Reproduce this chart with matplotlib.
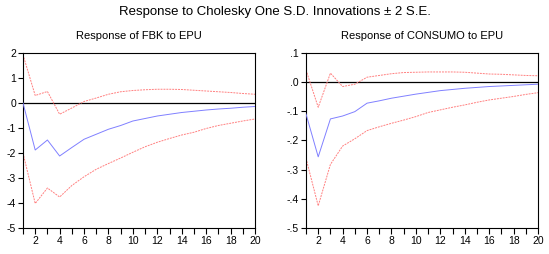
import matplotlib
matplotlib.use("Agg")
import matplotlib.pyplot as plt
from matplotlib.ticker import FuncFormatter, MultipleLocator

plt.rcParams['font.family'] = ['Liberation Sans', 'DejaVu Sans']

periods = list(range(1, 21))

fbk_resp = [0.0, -1.88, -1.48, -2.12, -1.78, -1.45, -1.25, -1.05, -0.9, -0.72,
            -0.62, -0.52, -0.45, -0.38, -0.33, -0.28, -0.24, -0.21, -0.17, -0.14]
fbk_upper = [1.93, 0.30, 0.46, -0.45, -0.20, 0.06, 0.20, 0.35, 0.45, 0.50,
             0.53, 0.55, 0.55, 0.54, 0.51, 0.48, 0.45, 0.42, 0.38, 0.35]
fbk_lower = [-2.0, -4.02, -3.40, -3.76, -3.30, -2.95, -2.65, -2.42, -2.20, -1.97,
             -1.75, -1.57, -1.42, -1.28, -1.17, -1.02, -0.90, -0.81, -0.72, -0.64]

con_resp = [-0.109, -0.256, -0.126, -0.116, -0.101, -0.072, -0.064, -0.055, -0.048, -0.041,
            -0.035, -0.029, -0.025, -0.021, -0.018, -0.015, -0.013, -0.011, -0.009, -0.007]
con_upper = [0.042, -0.086, 0.031, -0.015, -0.007, 0.017, 0.023, 0.029, 0.033, 0.034,
             0.035, 0.035, 0.035, 0.034, 0.031, 0.028, 0.027, 0.025, 0.023, 0.022]
con_lower = [-0.261, -0.424, -0.282, -0.219, -0.194, -0.166, -0.153, -0.141, -0.130, -0.118,
             -0.104, -0.095, -0.086, -0.078, -0.069, -0.061, -0.055, -0.049, -0.042, -0.036]

fig = plt.figure(figsize=(5.49, 2.54), dpi=100)
fig.text(0.5, 1 - 12 / 254, "Response to Cholesky One S.D. Innovations \u00b1 2 S.E.",
         ha='center', va='center', fontsize=9.5)

W, H = 549, 254
ax1 = fig.add_axes([23 / W, (H - 228) / H, (255 - 23) / W, (228 - 53) / H])
ax2 = fig.add_axes([306 / W, (H - 228) / H, (538 - 306) / W, (228 - 53) / H])

def style(ax, resp, up, lo, ylim, ymajor, fmt, title):
    ax.axhline(0, color='black', lw=0.9, zorder=1)
    ax.plot(periods, resp, color='#8080ff', lw=0.7, zorder=3)
    ax.plot(periods, up, color='#ff8080', lw=0.7, ls=(0, (2, 1)), zorder=2)
    ax.plot(periods, lo, color='#ff8080', lw=0.7, ls=(0, (2, 1)), zorder=2)
    ax.set_xlim(1, 20)
    ax.set_ylim(*ylim)
    ax.xaxis.set_major_locator(MultipleLocator(2))
    ax.xaxis.set_minor_locator(MultipleLocator(1))
    ax.yaxis.set_major_locator(MultipleLocator(ymajor))
    ax.yaxis.set_major_formatter(FuncFormatter(fmt))
    ax.xaxis.set_major_formatter(FuncFormatter(lambda v, p: f"{int(round(v))}"))
    ax.tick_params(axis='both', which='both', direction='out', labelsize=7.5,
                   top=False, right=False, width=0.8, pad=1.5)
    ax.tick_params(axis='x', which='both', length=4.5)
    ax.tick_params(axis='y', which='major', length=3.5)
    for s in ax.spines.values():
        s.set_linewidth(0.8)
    ax.set_title(title, fontsize=8, pad=10)

style(ax1, fbk_resp, fbk_upper, fbk_lower, (-5, 2), 1,
      lambda v, p: f"{int(round(v))}", "Response of FBK to EPU")

def fmt2(v, p):
    s = f"{v:.1f}"
    if s.startswith("-0"):
        s = "-" + s[2:]
    elif s.startswith("0"):
        s = s[1:]
    if s == "-.0":
        s = ".0"
    return s

style(ax2, con_resp, con_upper, con_lower, (-0.5, 0.1), 0.1, fmt2,
      "Response of CONSUMO to EPU")

fig.savefig("out.png", dpi=100)
